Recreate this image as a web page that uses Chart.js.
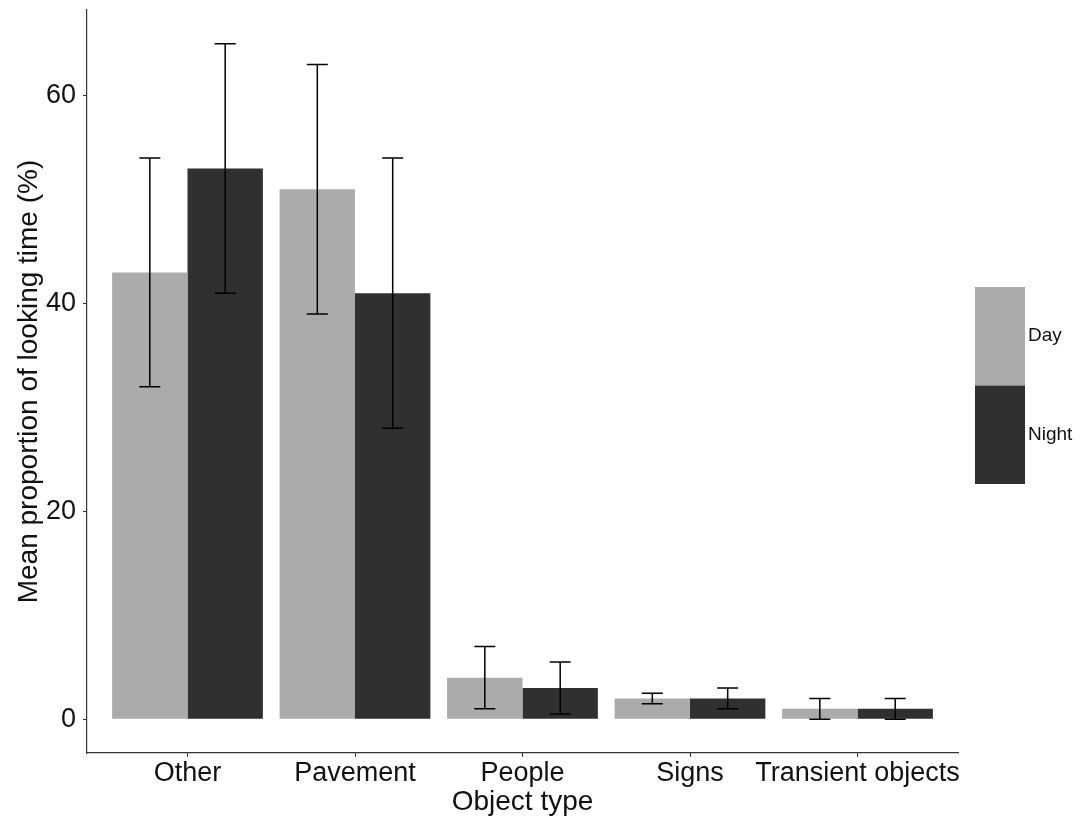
<!DOCTYPE html>
<html>
<head>
<meta charset="utf-8">
<script src="https://cdn.jsdelivr.net/npm/chart.js@4/dist/chart.umd.min.js"></script>
<style>
  html, body { margin: 0; padding: 0; background: #ffffff; }
  #wrap { width: 1087px; height: 820px; }
</style>
</head>
<body>
<div id="wrap"><canvas id="c" width="1087" height="820"></canvas></div>
<script>
// Mean proportion of looking time (%) by object type, day vs night, with error bars
const categories = ['Other', 'Pavement', 'People', 'Signs', 'Transient objects'];
const seriesNames = ['Day', 'Night'];
const dayMean   = [43, 51, 4, 2, 1];
const nightMean = [53, 41, 3, 2, 1];
const dayLow    = [32, 39, 1, 1.5, 0];
const dayHigh   = [54, 63, 7, 2.5, 2];
const nightLow  = [41, 28, 0.5, 1, 0];
const nightHigh = [65, 54, 5.5, 3, 2];
const yTicks = [0, 20, 40, 60];

const FONT = '"Liberation Sans", Arial, Helvetica, sans-serif';
const INK = '#111111';
const AXIS = '#333333';
const DAY_FILL = '#ababab';
const NIGHT_FILL = '#303030';

// bars sit at positions 1..n on a linear axis so the panel can keep ggplot-like margins
const toPoints = (vals) => vals.map((v, i) => ({ x: i + 1, y: v }));

const errorBars = {
  id: 'errorBars',
  afterDatasetsDraw(chart) {
    const ctx = chart.ctx;
    const y = chart.scales.y;
    const half = 10.5;
    ctx.save();
    ctx.strokeStyle = '#000000';
    ctx.lineWidth = 1.5;
    chart.data.datasets.forEach((ds, di) => {
      const meta = chart.getDatasetMeta(di);
      meta.data.forEach((bar, i) => {
        const yl = y.getPixelForValue(ds.errLow[i]);
        const yh = y.getPixelForValue(ds.errHigh[i]);
        const x = bar.x;
        ctx.beginPath();
        ctx.moveTo(x, yl); ctx.lineTo(x, yh);
        ctx.moveTo(x - half, yh); ctx.lineTo(x + half, yh);
        ctx.moveTo(x - half, yl); ctx.lineTo(x + half, yl);
        ctx.stroke();
      });
    });
    ctx.restore();
  }
};

// legend: tall keys stacked at the right, labels beside them
const sideLegend = {
  id: 'sideLegend',
  afterDraw(chart) {
    const ctx = chart.ctx;
    const area = chart.chartArea;
    const keyW = 50, keyH = 98.5;
    const x0 = area.right + 17;
    const n = chart.data.datasets.length;
    const top = (area.top + area.bottom) / 2 + 4 - (keyH * n) / 2;
    ctx.save();
    ctx.font = '19px ' + FONT;
    ctx.textBaseline = 'middle';
    ctx.textAlign = 'left';
    chart.data.datasets.forEach((ds, i) => {
      const yy = top + i * keyH;
      ctx.fillStyle = ds.backgroundColor;
      ctx.fillRect(x0, yy, keyW, keyH);
      ctx.fillStyle = INK;
      ctx.fillText(ds.label, x0 + keyW + 3, yy + keyH / 2);
    });
    ctx.restore();
  }
};

new Chart(document.getElementById('c'), {
  type: 'bar',
  data: {
    datasets: [
      { label: seriesNames[0], data: toPoints(dayMean), backgroundColor: DAY_FILL,
        errLow: dayLow, errHigh: dayHigh },
      { label: seriesNames[1], data: toPoints(nightMean), backgroundColor: NIGHT_FILL,
        errLow: nightLow, errHigh: nightHigh }
    ]
  },
  options: {
    responsive: false,
    animation: false,
    devicePixelRatio: 1,
    layout: { padding: { top: 10, right: 129, bottom: 0, left: 0 } },
    datasets: { bar: { categoryPercentage: 0.9, barPercentage: 1.0, borderWidth: 0 } },
    plugins: { legend: { display: false }, tooltip: { enabled: false } },
    scales: {
      x: {
        type: 'linear',
        min: 0.4,
        max: 5.6,
        offset: false,
        afterBuildTicks(scale) {
          scale.ticks = categories.map((_, i) => ({ value: i + 1 }));
        },
        afterFit(scale) {
          scale.height = 67;
          scale.paddingLeft = 0; scale.paddingRight = 0;
        },
        ticks: {
          autoSkip: false,
          maxRotation: 0,
          padding: 0,
          color: INK,
          font: { family: FONT, size: 27 },
          callback: (v) => categories[Math.round(v) - 1] || ''
        },
        grid: { offset: false, drawOnChartArea: false, drawTicks: true, tickLength: 4, color: AXIS, lineWidth: 1 },
        border: { display: true, color: AXIS, width: 1.2 },
        title: {
          display: true,
          text: 'Object type',
          color: INK,
          font: { family: FONT, size: 28 },
          padding: { top: 1, bottom: 1 }
        }
      },
      y: {
        min: -3.25,
        max: 68.25,
        afterBuildTicks(scale) {
          scale.ticks = yTicks.map((v) => ({ value: v }));
        },
        afterFit(scale) {
          scale.width = 87;
          scale.paddingTop = 0; scale.paddingBottom = 0;
        },
        ticks: {
          padding: 7,
          color: INK,
          font: { family: FONT, size: 27 }
        },
        grid: { drawOnChartArea: false, drawTicks: true, tickLength: 4, color: AXIS, lineWidth: 1 },
        border: { display: true, color: AXIS, width: 1.2 },
        title: {
          display: true,
          text: 'Mean proportion of looking time (%)',
          color: INK,
          font: { family: FONT, size: 28 },
          padding: { top: 12, bottom: 0 }
        }
      }
    }
  },
  plugins: [errorBars, sideLegend]
});
</script>
</body>
</html>
